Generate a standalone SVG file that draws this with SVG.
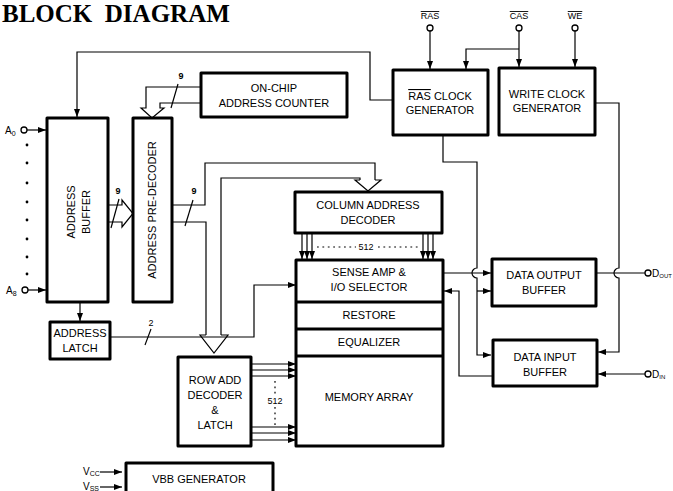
<svg xmlns="http://www.w3.org/2000/svg" width="673" height="491" viewBox="0 0 673 491">
<defs>
<style>
.box{fill:#fff;stroke:#000;stroke-width:3;stroke-linejoin:round}
.w{fill:none;stroke:#000;stroke-width:1.2}
.h{fill:#fff;stroke:#000;stroke-width:1.2;stroke-linejoin:miter}
.t{font-family:"Liberation Sans",Arial,sans-serif;font-size:11px;text-anchor:middle;fill:#000}
.s{font-family:"Liberation Sans",Arial,sans-serif;font-size:9px;text-anchor:middle;fill:#000}
.p{font-family:"Liberation Sans",Arial,sans-serif;font-size:10px;fill:#000}
.dot{fill:#000}
.pin{fill:#fff;stroke:#000;stroke-width:1.3}
</style>
<marker id="a" viewBox="0 0 8 6" refX="8" refY="3" markerWidth="8" markerHeight="6" markerUnits="userSpaceOnUse" orient="auto">
<path d="M0,0 L8,3 L0,6 Z" fill="#000"/>
</marker>
</defs>
<rect width="673" height="491" fill="#fff"/>
<text x="2" y="22" font-family="Liberation Serif,'Times New Roman',serif" font-weight="bold" font-size="25" xml:space="preserve">BLOCK  DIAGRAM</text>

<g id="connectors">
<path class="w" d="M393,100 H370 V52 H77 V117" marker-end="url(#a)"/>
<path class="w" d="M27,130 H46" marker-end="url(#a)"/>
<path class="w" d="M28,290 H46" marker-end="url(#a)"/>
<path class="w" d="M80,303 V321" marker-end="url(#a)"/>
<path class="h" d="M108,205 H122 V200 L133,213.5 L122,227 V222 H108"/>
<line class="w" x1="111" y1="228" x2="119" y2="199"/>
<path class="h" d="M201,87 H146 V108 H141 L152,118 L164,108 H160 V103 H201"/>
<line class="w" x1="171" y1="108" x2="178" y2="84"/>
<path class="w" d="M172,205 H205 V163 H375 V180"/>
<path class="w" d="M172,222 H206 V335"/>
<path class="w" d="M221,335 V178 H360 V180"/>
<path class="h" d="M360,180 H355 L368,191 L381,180 H375"/>
<path class="h" d="M206,335 H200 L214,353 L228,335 H221"/>
<line class="w" x1="185" y1="226" x2="193" y2="200"/>
<path class="w" d="M110,337 H254 V285 H296" marker-end="url(#a)"/>
<line class="w" x1="145" y1="345" x2="151" y2="329"/>
<path class="w" d="M302,233 V259" marker-end="url(#a)"/>
<path class="w" d="M307,233 V259" marker-end="url(#a)"/>
<path class="w" d="M312,233 V259" marker-end="url(#a)"/>
<path class="w" d="M423,233 V259" marker-end="url(#a)"/>
<path class="w" d="M428,233 V259" marker-end="url(#a)"/>
<path class="w" d="M433,233 V259" marker-end="url(#a)"/>
<line class="w" x1="317" y1="247" x2="356" y2="247" stroke-dasharray="1.8,3.6" stroke-width="1.8"/>
<line class="w" x1="378" y1="247" x2="420" y2="247" stroke-dasharray="1.8,3.6" stroke-width="1.8"/>
<path class="w" d="M251,364 H296" marker-end="url(#a)"/>
<path class="w" d="M251,370 H296" marker-end="url(#a)"/>
<path class="w" d="M251,376 H296" marker-end="url(#a)"/>
<path class="w" d="M251,427 H296" marker-end="url(#a)"/>
<path class="w" d="M251,433 H296" marker-end="url(#a)"/>
<path class="w" d="M251,440 H296" marker-end="url(#a)"/>
<line class="w" x1="275" y1="381" x2="275" y2="395" stroke-dasharray="1.8,3.6" stroke-width="1.8"/>
<line class="w" x1="275" y1="407" x2="275" y2="426" stroke-dasharray="1.8,3.6" stroke-width="1.8"/>
<path class="w" d="M430,31 V69" marker-end="url(#a)"/>
<path class="w" d="M519,31 V67" marker-end="url(#a)"/>
<path class="w" d="M519,49 H466 V69" marker-end="url(#a)"/>
<path class="w" d="M575,31 V67" marker-end="url(#a)"/>
<path class="w" d="M443,135 V162 H477 V268 A5,5 0 0 0 477,278 V355 H491" marker-end="url(#a)"/>
<path class="w" d="M477,291 H491" marker-end="url(#a)"/>
<path class="w" d="M595,103 H619 V268 A5,5 0 0 0 619,278 V352 H598" marker-end="url(#a)"/>
<path class="w" d="M443,273 H491" marker-end="url(#a)"/>
<path class="w" d="M596,273 H645"/>
<path class="w" d="M645,374 H598" marker-end="url(#a)"/>
<path class="w" d="M493,376 H459 V291 H444" marker-end="url(#a)"/>
<path class="w" d="M100,472 H122" marker-end="url(#a)"/>
<path class="w" d="M100,487 H122" marker-end="url(#a)"/>
</g>

<g id="labels">
<text class="s" x="118" y="194" font-weight="bold">9</text>
<text class="s" x="181" y="79" font-weight="bold">9</text>
<text class="s" x="194" y="194" font-weight="bold">9</text>
<text class="s" x="151" y="326">2</text>
<text class="s" x="366" y="250" font-size="8">512</text>
<text class="s" x="275" y="404" font-size="8">512</text>
</g>

<g id="pin-A0">
<text class="p" x="5" y="134">A<tspan font-size="7" dy="2">0</tspan></text>
<circle class="pin" cx="24" cy="130" r="3"/>
</g>
<g id="pin-dots">
<circle class="dot" cx="27" cy="145" r="1.4"/><circle class="dot" cx="27" cy="163" r="1.4"/>
<circle class="dot" cx="27" cy="183" r="1.4"/><circle class="dot" cx="27" cy="202" r="1.4"/>
<circle class="dot" cx="27" cy="220" r="1.4"/><circle class="dot" cx="27" cy="239" r="1.4"/>
<circle class="dot" cx="27" cy="257" r="1.4"/><circle class="dot" cx="27" cy="274" r="1.4"/>
</g>
<g id="pin-A8">
<text class="p" x="6" y="294">A<tspan font-size="7" dy="2">8</tspan></text>
<circle class="pin" cx="25" cy="290" r="3"/>
</g>
<g id="pin-RAS">
<text class="s" x="430" y="19" font-size="10" text-decoration="overline">RAS</text>
<circle class="pin" cx="430" cy="28" r="3"/>
</g>
<g id="pin-CAS">
<text class="s" x="519" y="19" font-size="10" text-decoration="overline">CAS</text>
<circle class="pin" cx="519" cy="28" r="3"/>
</g>
<g id="pin-WE">
<text class="s" x="575" y="19" font-size="10" text-decoration="overline">WE</text>
<circle class="pin" cx="575" cy="28" r="3"/>
</g>
<g id="pin-DOUT">
<circle class="pin" cx="648" cy="273" r="3"/>
<text class="p" x="652" y="277" font-size="9">D<tspan font-size="6" dy="1">OUT</tspan></text>
</g>
<g id="pin-DIN">
<circle class="pin" cx="648" cy="374" r="3"/>
<text class="p" x="652" y="378" font-size="9">D<tspan font-size="6" dy="1">IN</tspan></text>
</g>
<g id="pin-VCC">
<text class="p" x="83" y="475">V<tspan font-size="7" dy="1">CC</tspan></text>
</g>
<g id="pin-VSS">
<text class="p" x="83" y="490">V<tspan font-size="7" dy="1">SS</tspan></text>
</g>

<g id="address-buffer">
<rect class="box" x="47" y="118" width="61" height="184"/>
<text class="t" transform="translate(75,212) rotate(-90)">ADDRESS</text>
<text class="t" transform="translate(90,212) rotate(-90)">BUFFER</text>
</g>
<g id="address-pre-decoder">
<rect class="box" x="133" y="118" width="39" height="184"/>
<text class="t" transform="translate(156,210) rotate(-90)">ADDRESS PRE-DECODER</text>
</g>
<g id="on-chip-address-counter">
<rect class="box" x="201" y="73" width="146" height="44"/>
<text class="t" x="274" y="92">ON-CHIP</text>
<text class="t" x="274" y="107">ADDRESS COUNTER</text>
</g>
<g id="ras-clock-generator">
<rect class="box" x="393" y="70" width="95" height="65"/>
<text class="t" x="440" y="100"><tspan text-decoration="overline">RAS</tspan> CLOCK</text>
<text class="t" x="440" y="114">GENERATOR</text>
</g>
<g id="write-clock-generator">
<rect class="box" x="499" y="68" width="96" height="67"/>
<text class="t" x="547" y="98">WRITE CLOCK</text>
<text class="t" x="547" y="112">GENERATOR</text>
</g>
<g id="column-address-decoder">
<rect class="box" x="295" y="192" width="147" height="41"/>
<text class="t" x="368" y="209">COLUMN ADDRESS</text>
<text class="t" x="368" y="224">DECODER</text>
</g>
<g id="memory-block">
<rect class="box" x="296" y="260" width="147" height="186"/>
<line x1="296" y1="302" x2="443" y2="302" stroke="#000" stroke-width="3"/>
<line x1="296" y1="329" x2="443" y2="329" stroke="#000" stroke-width="3"/>
<line x1="296" y1="356" x2="443" y2="356" stroke="#000" stroke-width="3"/>
<text class="t" x="369" y="276">SENSE AMP &amp;</text>
<text class="t" x="369" y="291">I/O SELECTOR</text>
<text class="t" x="369" y="319">RESTORE</text>
<text class="t" x="369" y="346">EQUALIZER</text>
<text class="t" x="369" y="401">MEMORY ARRAY</text>
</g>
<g id="address-latch">
<rect class="box" x="50" y="322" width="60" height="37"/>
<text class="t" x="80" y="337">ADDRESS</text>
<text class="t" x="80" y="352">LATCH</text>
</g>
<g id="row-add-decoder">
<rect class="box" x="178" y="357" width="73" height="89"/>
<text class="t" x="215" y="384">ROW ADD</text>
<text class="t" x="215" y="399">DECODER</text>
<text class="t" x="215" y="414">&amp;</text>
<text class="t" x="215" y="429">LATCH</text>
</g>
<g id="data-output-buffer">
<rect class="box" x="492" y="259" width="104" height="47"/>
<text class="t" x="544" y="279">DATA OUTPUT</text>
<text class="t" x="544" y="294">BUFFER</text>
</g>
<g id="data-input-buffer">
<rect class="box" x="493" y="340" width="104" height="46"/>
<text class="t" x="545" y="361">DATA INPUT</text>
<text class="t" x="545" y="376">BUFFER</text>
</g>
<g id="vbb-generator">
<rect class="box" x="126" y="463" width="147" height="40"/>
<text class="t" x="199" y="483">VBB GENERATOR</text>
</g>
</svg>
